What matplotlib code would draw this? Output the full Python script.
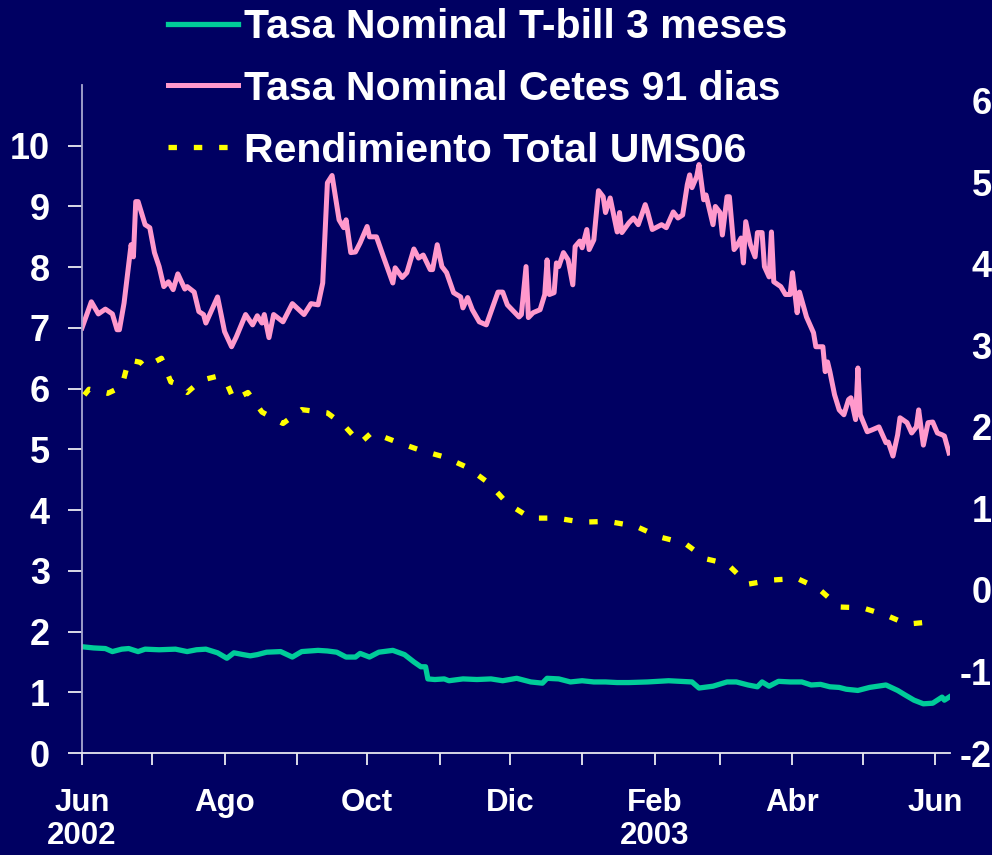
import numpy as np
import pandas as pd
import matplotlib
matplotlib.use("Agg")
import matplotlib.pyplot as plt
import matplotlib.dates as mdates
from matplotlib.lines import Line2D

plt.rcParams['font.family'] = ['Liberation Sans', 'DejaVu Sans']
plt.rcParams['font.weight'] = 'bold'
plt.rcParams['axes.unicode_minus'] = False

start = pd.Timestamp('2002-06-01')

# Cetes 91 dias (left axis), day offset from 1 Jun 2002
cetes_day = [0, 4, 7, 10, 13, 15, 16, 18, 21, 22, 23, 24, 27, 29, 31, 33, 35, 37, 39, 41,
             44, 45, 48, 50, 52, 53, 58, 61, 64, 66, 70, 73, 75, 77, 78, 80, 82, 86, 90, 95,
             98, 101, 103, 105, 107, 110, 112, 113, 115, 117, 119, 122, 123, 126, 129, 133,
             134, 137, 139, 142, 144, 146, 149, 150, 152, 154, 156, 159, 162, 163, 165, 167,
             170, 173, 178, 180, 182, 187, 188, 190, 191, 193, 196, 198, 199, 200, 202, 203,
             204, 206, 208, 210, 211, 213, 214, 216, 217, 219, 221, 223, 224, 226, 229, 230,
             231, 234, 236, 238, 241, 242, 244, 248, 250, 253, 255, 257, 259, 260, 261, 263,
             264, 266, 267, 270, 271, 273, 274, 276, 277, 279, 280, 282, 283, 284, 286, 288,
             289, 291, 292, 294, 295, 296, 299, 301, 303, 304, 306, 307, 310, 313, 314, 317,
             318, 319, 320, 322, 324, 326, 328, 329, 331, 332, 333, 336, 338, 341, 344, 345,
             347, 349, 350, 353, 355, 357, 358, 360, 362, 364, 366, 368, 369, 371]
cetes_val = [7.00, 7.43, 7.23, 7.31, 7.23, 6.97, 6.97, 7.41, 8.37, 8.17, 9.08, 9.08, 8.70, 8.65,
             8.24, 8.01, 7.68, 7.76, 7.63, 7.89, 7.64, 7.68, 7.59, 7.27, 7.22, 7.08, 7.51, 6.94,
             6.69, 6.85, 7.22, 7.05, 7.20, 7.08, 7.22, 6.84, 7.22, 7.10, 7.40, 7.22, 7.40, 7.38,
             7.74, 9.39, 9.51, 8.78, 8.65, 8.78, 8.24, 8.25, 8.40, 8.67, 8.50, 8.50, 8.17, 7.74,
             7.99, 7.83, 7.91, 8.30, 8.15, 8.20, 7.96, 7.96, 8.37, 8.01, 7.91, 7.58, 7.51, 7.33,
             7.50, 7.30, 7.10, 7.05, 7.59, 7.59, 7.38, 7.18, 7.22, 8.01, 7.17, 7.25, 7.30, 7.55,
             8.12, 7.55, 7.58, 8.07, 8.01, 8.24, 8.12, 7.71, 8.34, 8.43, 8.32, 8.62, 8.29, 8.45,
             9.26, 9.16, 8.90, 9.14, 8.58, 8.90, 8.57, 8.73, 8.81, 8.70, 9.03, 8.91, 8.62, 8.70,
             8.65, 8.91, 8.81, 8.86, 9.36, 9.52, 9.31, 9.49, 9.69, 9.11, 9.19, 8.70, 9.00, 8.90,
             8.53, 9.16, 9.16, 8.29, 8.34, 8.48, 8.07, 8.75, 8.37, 8.17, 8.57, 8.57, 8.01, 7.84,
             8.58, 7.76, 7.68, 7.55, 7.55, 7.91, 7.25, 7.59, 7.18, 6.92, 6.69, 6.69, 6.28, 6.44,
             6.28, 5.90, 5.65, 5.57, 5.82, 5.85, 5.49, 6.34, 5.57, 5.29, 5.32, 5.37, 5.11, 5.12,
             4.89, 5.24, 5.52, 5.44, 5.27, 5.37, 5.65, 5.07, 5.44, 5.45, 5.27, 5.24, 5.22, 4.94]

# T-bill 3 meses (left axis)
tbill_day = [0, 5, 10, 13, 17, 20, 24, 27, 33, 40, 45, 49, 53, 58, 62, 65, 69, 72, 75, 79,
             85, 90, 94, 101, 105, 109, 113, 117, 119, 123, 127, 133, 138, 142, 145, 147, 148,
             151, 155, 157, 163, 169, 175, 180, 186, 192, 197, 199, 204, 209, 214, 219, 224,
             229, 234, 242, 251, 256, 261, 264, 270, 276, 280, 285, 289, 291, 294, 298, 303,
             308, 312, 316, 320, 324, 327, 332, 337, 344, 349, 352, 356, 360, 364, 368, 369, 371]
tbill_val = [1.75, 1.73, 1.72, 1.67, 1.71, 1.72, 1.67, 1.71, 1.70, 1.71, 1.67, 1.70, 1.71, 1.65,
             1.56, 1.65, 1.62, 1.60, 1.62, 1.66, 1.67, 1.58, 1.67, 1.69, 1.68, 1.66, 1.58, 1.58,
             1.64, 1.58, 1.66, 1.69, 1.62, 1.50, 1.42, 1.42, 1.22, 1.21, 1.22, 1.19, 1.22, 1.21,
             1.22, 1.19, 1.23, 1.17, 1.15, 1.23, 1.22, 1.17, 1.19, 1.17, 1.17, 1.16, 1.16, 1.17,
             1.19, 1.18, 1.17, 1.07, 1.10, 1.17, 1.17, 1.12, 1.09, 1.17, 1.10, 1.18, 1.17, 1.17,
             1.12, 1.13, 1.09, 1.08, 1.05, 1.03, 1.08, 1.12, 1.03, 0.96, 0.87, 0.81, 0.82, 0.92,
             0.87, 0.92]

# Rendimiento total UMS06 (right axis)
ums_day = [1, 3, 11, 17, 20, 25, 27, 34, 38, 40, 45, 51, 58, 62, 65, 71, 77, 86, 94, 105, 112,
           119, 124, 135, 145, 155, 165, 174, 182, 192, 203, 214, 225, 237, 247, 258, 267, 276,
           285, 295, 306, 315, 324, 334, 344, 353, 364]
ums_val = [2.39, 2.46, 2.41, 2.49, 2.82, 2.79, 2.73, 2.84, 2.55, 2.53, 2.42, 2.57, 2.62, 2.53,
           2.33, 2.42, 2.18, 2.04, 2.21, 2.17, 2.02, 1.80, 1.93, 1.81, 1.71, 1.63, 1.50, 1.31,
           1.06, 0.88, 0.88, 0.83, 0.84, 0.78, 0.65, 0.57, 0.38, 0.32, 0.07, 0.12, 0.14, 0.02,
           -0.21, -0.22, -0.31, -0.42, -0.39]

labels = ['Tasa Nominal T-bill 3 meses', 'Tasa Nominal Cetes 91 dias', 'Rendimiento Total UMS06']
month_labels = ['Jun\n2002', '', 'Ago', '', 'Oct', '', 'Dic', '', 'Feb\n2003', '', 'Abr', '', 'Jun']

bg = '#000062'
green = '#00CC99'
pink = '#FF99CC'
yellow = '#FFFF00'

cetes_x = start + pd.to_timedelta(cetes_day, unit='D')
tbill_x = start + pd.to_timedelta(tbill_day, unit='D')
ums_x = start + pd.to_timedelta(ums_day, unit='D')

fig = plt.figure(figsize=(9.92, 8.55), dpi=100, facecolor=bg)
ax = fig.add_axes([82 / 992, 102 / 855, 868 / 992, 668 / 855])
ax.set_facecolor(bg)
ax2 = ax.twinx()

l1, = ax.plot(tbill_x, tbill_val, color=green, lw=3.8, solid_joinstyle='round')
l2, = ax.plot(cetes_x, cetes_val, color=pink, lw=3.6, solid_joinstyle='round')
l3, = ax2.plot(ums_x, ums_val, color=yellow, lw=3.8, linestyle=(0, (1.6, 3.2)))

ax.set_xlim(start, start + pd.Timedelta(days=371.4))
ax.set_ylim(0, 11)
ax2.set_ylim(-2, 6.19)

ax.set_yticks(range(0, 11))
ax2.set_yticks(range(-2, 7))

months = pd.date_range('2002-06-01', '2003-06-01', freq='MS')
ax.set_xticks(months)
ax.set_xticklabels(month_labels)

for s in ['top', 'right']:
    ax.spines[s].set_visible(False)
for s in ax2.spines.values():
    s.set_visible(False)
ax.spines['left'].set_color('#A8A8D0')
ax.spines['left'].set_linewidth(1.3)
ax.spines['bottom'].set_color('#E8E8F0')
ax.spines['bottom'].set_linewidth(1.3)

ax.tick_params(axis='y', colors='white', length=10, width=1.2, pad=13, labelsize=26,
               direction='out')
ax.tick_params(axis='x', colors='white', length=8.5, width=1.2, pad=17, labelsize=22.5,
               direction='out')
ax2.tick_params(axis='y', colors='white', length=0, pad=30, labelsize=26)
for t in ax2.get_yticklabels():
    t.set_horizontalalignment('right')
for t in ax.get_xticklabels() + ax.get_yticklabels() + ax2.get_yticklabels():
    t.set_fontweight('bold')
for t in ax.get_xticklabels():
    t.set_linespacing(1.1)

leg = fig.legend([l1, l2, l3], labels, loc='upper left',
                 bbox_to_anchor=(168 / 992, 1.0 - 8 / 855), frameon=False,
                 prop={'family': 'Liberation Sans', 'weight': 'bold', 'size': 29.5},
                 handlelength=1.7, handletextpad=0.15, labelspacing=0.58,
                 borderpad=0, borderaxespad=0)
for t in leg.get_texts():
    t.set_color('white')

fig.savefig('out.png', dpi=100, facecolor=bg)
